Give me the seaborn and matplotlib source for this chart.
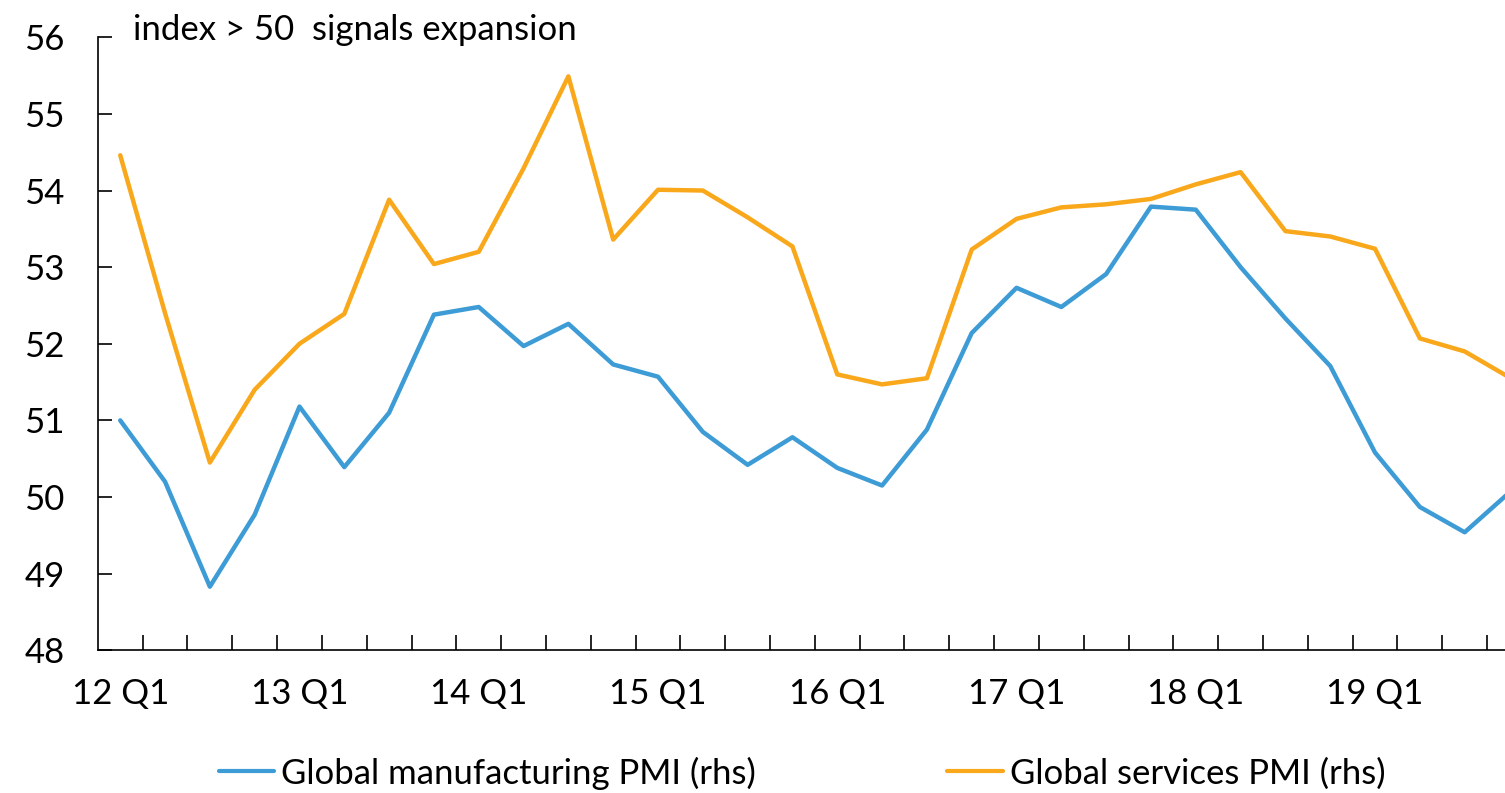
import numpy as np
import pandas as pd
import matplotlib
matplotlib.use("Agg")
import matplotlib.pyplot as plt
import seaborn as sns

# quarters 12 Q1 .. 19 Q4
quarters = [f"{y} Q{q}" for y in range(12, 20) for q in range(1, 5)]

manufacturing = [
    51.0, 50.2, 48.83, 49.77, 51.18, 50.39, 51.1, 52.38,
    52.48, 51.97, 52.26, 51.73, 51.57, 50.85, 50.42, 50.78,
    50.38, 50.15, 50.88, 52.14, 52.73, 52.48, 52.91, 53.79,
    53.75, 53.0, 52.33, 51.71, 50.58, 49.87, 49.54, 50.06,
]
services = [
    54.46, 52.4, 50.45, 51.4, 52.0, 52.39, 53.88, 53.04,
    53.2, 54.29, 55.49, 53.36, 54.01, 54.0, 53.65, 53.27,
    51.6, 51.47, 51.55, 53.23, 53.63, 53.78, 53.82, 53.89,
    54.08, 54.24, 53.47, 53.4, 53.24, 52.07, 51.9, 51.56,
]
series_names = ["Global manufacturing PMI (rhs)", "Global services PMI (rhs)"]
colors = ["#3D9BD6", "#F9A81B"]

df = pd.DataFrame({
    "x": list(range(len(quarters))) * 2,
    "value": manufacturing + services,
    "series": [series_names[0]] * len(quarters) + [series_names[1]] * len(quarters),
})

sns.set_theme(style="white")
plt.rcParams["font.family"] = ["Lato", "DejaVu Sans"]
plt.rcParams["text.color"] = "black"

fig = plt.figure(figsize=(15.05, 7.93), dpi=100)
ax = fig.add_axes([0.065, 0.18, 0.935, 0.773])

sns.lineplot(data=df, x="x", y="value", hue="series", palette=colors,
             linewidth=3.2, ax=ax, legend=False)

ax.set_yticks(range(48, 57))
ax.set_yticklabels([str(v) for v in range(48, 57)], fontsize=25)

# labels under each Q1, tick marks at quarter boundaries
ax.set_xticks(range(0, len(quarters), 4))
ax.set_xticklabels(quarters[::4], fontsize=25)
ax.set_xticks(np.arange(0.5, len(quarters), 1), minor=True)
ax.set_xlim(-0.5, 30.9)
ax.set_ylim(48, 56)

ax.tick_params(axis="x", which="major", bottom=True, length=0, pad=20)
ax.tick_params(axis="x", which="minor", bottom=True, direction="in", length=11,
               width=1.2, color="black")
ax.tick_params(axis="y", which="major", left=True, direction="in", length=10,
               width=1.2, color="black", pad=24)
ax.tick_params(axis="both", labelcolor="black")

for side in ["top", "right"]:
    ax.spines[side].set_visible(False)
for side in ["left", "bottom"]:
    ax.spines[side].set_color("black")
    ax.spines[side].set_linewidth(1.2)
ax.set_xlabel("")
ax.set_ylabel("")

ax.text(0.025, 1.012, "index > 50  signals expansion", transform=ax.transAxes,
        fontsize=25, va="center", ha="left")

handles = [plt.Line2D([0], [0], color=c, lw=3) for c in colors]
fig.legend(handles, series_names, loc="lower center", bbox_to_anchor=(0.533, -0.035),
           ncol=2, frameon=False, fontsize=25, handlelength=1.6,
           handletextpad=0.2, columnspacing=5.5)

fig.savefig("out.png", dpi=100)
